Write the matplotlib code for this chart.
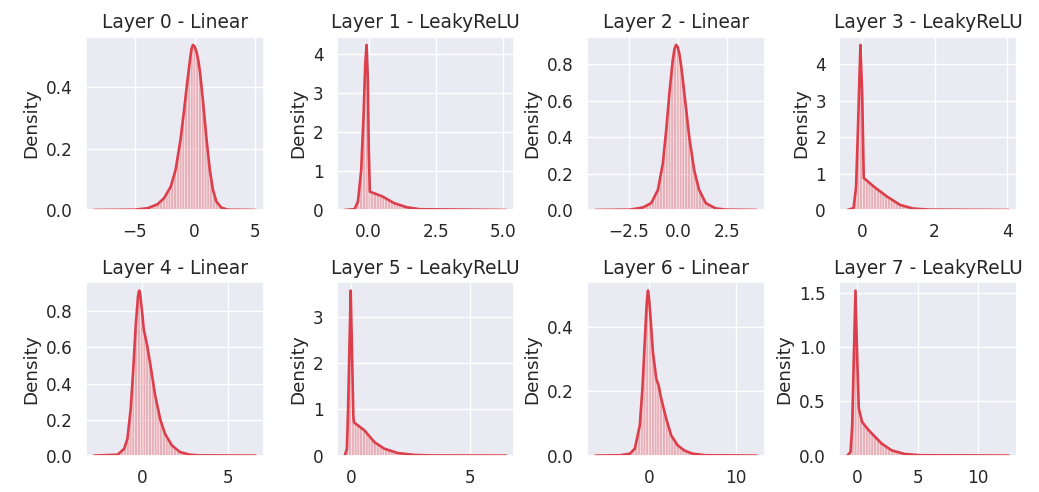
import matplotlib
matplotlib.use("Agg")
import matplotlib.pyplot as plt
import seaborn as sns

sns.set_theme(style="darkgrid", context="notebook")
plt.rcParams['font.family'] = ['DejaVu Sans']
plt.rcParams['hatch.linewidth'] = 0.4

titles = ["Layer 0 - Linear", "Layer 1 - LeakyReLU", "Layer 2 - Linear", "Layer 3 - LeakyReLU",
          "Layer 4 - Linear", "Layer 5 - LeakyReLU", "Layer 6 - Linear", "Layer 7 - LeakyReLU"]

xticks = [[-5, 0, 5], [0.0, 2.5, 5.0], [-2.5, 0.0, 2.5], [0, 2, 4],
          [0, 5], [0, 5], [0, 10], [0, 5, 10]]

layer0_x = [-8.39, -5.0, -3.9, -3.09, -2.55, -2.0, -1.6, -1.19, -0.92, -0.64, -0.37, -0.26, -0.15,
            0.0, 0.17, 0.30, 0.44, 0.71, 0.99, 1.26, 1.52, 1.80, 2.21, 2.75, 5.06]
layer0_y = [0.0, 0.001, 0.006, 0.019, 0.039, 0.076, 0.130, 0.228, 0.314, 0.411, 0.497, 0.527, 0.538,
            0.533, 0.512, 0.487, 0.450, 0.346, 0.228, 0.130, 0.066, 0.028, 0.008, 0.001, 0.0]

layer1_x = [-0.89, -0.53, -0.40, -0.28, -0.19, -0.13, -0.08, -0.03, 0.0, 0.04,
            0.5, 0.93, 1.41, 1.89, 5.1]
layer1_y = [0.0, 0.02, 0.22, 1.02, 2.46, 3.73, 4.22, 3.31, 1.61, 0.47,
            0.35, 0.18, 0.07, 0.02, 0.0]

layer2_x = [-4.2, -2.45, -1.78, -1.36, -1.02, -0.77, -0.6, -0.44, -0.27, -0.18, -0.1, -0.02, 0.07, 0.15,
            0.23, 0.4, 0.57, 0.82, 1.07, 1.41, 1.91, 2.41, 4.0]
layer2_y = [0.0, 0.002, 0.014, 0.038, 0.111, 0.257, 0.439, 0.639, 0.821, 0.885, 0.907, 0.897, 0.858, 0.80,
            0.730, 0.566, 0.402, 0.220, 0.111, 0.038, 0.009, 0.002, 0.0]

layer3_x = [-0.4, -0.23, -0.16, -0.11, -0.07, -0.04, 0.01, 0.05, 0.33, 0.69, 1.05, 1.41, 1.86, 4.04]
layer3_y = [0.0, 0.05, 0.64, 2.18, 3.55, 4.53, 3.09, 0.88, 0.64, 0.37, 0.14, 0.04, 0.01, 0.0]

layer4_x = [-2.8, -1.43, -1.05, -0.86, -0.67, -0.52, -0.38, -0.25, -0.21, -0.17, -0.12, -0.06, 0.0, 0.09,
            0.29, 0.48, 0.76, 1.05, 1.33, 1.72, 2.19, 2.76, 3.34, 6.58]
layer4_y = [0.0, 0.005, 0.038, 0.094, 0.26, 0.48, 0.72, 0.88, 0.905, 0.916, 0.898, 0.846, 0.79, 0.70,
            0.61, 0.50, 0.33, 0.20, 0.12, 0.057, 0.02, 0.005, 0.001, 0.0]

layer5_x = [-0.28, -0.19, -0.14, -0.08, -0.03, 0.03, 0.08, 0.11, 0.55, 0.97, 1.38, 1.94, 2.63, 3.32, 6.5]
layer5_y = [0.0, 0.15, 1.01, 2.45, 3.58, 2.09, 0.85, 0.72, 0.545, 0.29, 0.15, 0.056, 0.015, 0.003, 0.0]

layer6_x = [-6.17, -3.3, -2.19, -1.63, -1.06, -0.76, -0.49, -0.30, -0.2, -0.11, 0.0, 0.16, 0.45, 0.84,
            1.10, 1.41, 1.98, 2.55, 3.30, 4.06, 5.0, 6.52, 12.39]
layer6_y = [0.0, 0.001, 0.006, 0.022, 0.094, 0.208, 0.353, 0.457, 0.495, 0.514, 0.49, 0.436, 0.322, 0.239,
            0.219, 0.177, 0.115, 0.063, 0.032, 0.016, 0.006, 0.001, 0.0]

layer7_x = [-0.78, -0.52, -0.38, -0.25, -0.11, 0.03, 0.16, 0.43, 0.97, 1.37, 2.04, 2.85, 3.92, 5.27, 12.5]
layer7_y = [0.0, 0.033, 0.28, 0.90, 1.52, 0.90, 0.435, 0.31, 0.234, 0.188, 0.111, 0.049, 0.015, 0.003, 0.0]

curves = [(layer0_x, layer0_y), (layer1_x, layer1_y), (layer2_x, layer2_y), (layer3_x, layer3_y),
          (layer4_x, layer4_y), (layer5_x, layer5_y), (layer6_x, layer6_y), (layer7_x, layer7_y)]

line_color = "#dc3f4b"

fig = plt.figure(figsize=(10.39, 4.92), dpi=100)
W, H = 1039.0, 492.0
col_left = [86.0, 336.7, 587.3, 839.3]
row_top = [36.7, 282.3]
ax_w, ax_h = 177.5, 173.3

for i, (xs, ys) in enumerate(curves):
    r, c = divmod(i, 4)
    ax = fig.add_axes([col_left[c] / W, 1 - (row_top[r] + ax_h) / H, ax_w / W, ax_h / H])
    ax.fill_between(xs, ys, 0, facecolor=(0.88, 0.25, 0.29, 0.34), edgecolor="white",
                    linewidth=0, hatch="||||||")
    ax.plot(xs, ys, color=line_color, lw=1.9, solid_joinstyle="round")
    ax.margins(x=0.05, y=0.05)
    ax.set_ylim(bottom=0)
    ax.set_xticks(xticks[i])
    ax.set_title(titles[i], fontsize=13.4)
    ax.set_ylabel("Density", fontsize=13.2)
    ax.tick_params(labelsize=12.2)

fig.savefig("out.png", dpi=100)
